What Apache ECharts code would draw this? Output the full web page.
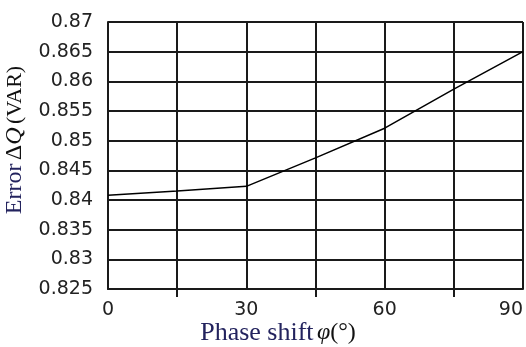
<!DOCTYPE html>
<html>
<head>
<meta charset="utf-8">
<script src="https://cdn.jsdelivr.net/npm/echarts@6/dist/echarts.min.js"></script>
<style>
  html, body { margin: 0; padding: 0; background: #fff; }
  #chart { width: 526px; height: 347px; }
</style>
</head>
<body>
<div id="chart"></div>
<script>
// Phase shift (degrees) and the resulting reactive-power error
const phaseShift = [0, 15, 30, 45, 60, 75, 90];
const errorDQ = [0.8408, 0.8415, 0.8423, 0.8471, 0.8521, 0.8587, 0.8650];

const yMin = 0.825, yMax = 0.87, yStep = 0.005;
const xMin = 0, xMax = 90, xStep = 30;

const chart = echarts.init(document.getElementById('chart'));

const gridColor = '#1a1a1a';
const labelFont = { fontFamily: 'DejaVu Sans', fontSize: 19, color: '#222' };

chart.setOption({
  animation: false,
  backgroundColor: '#fff',
  grid: { left: 108, right: 3, top: 22, bottom: 58, containLabel: false },
  xAxis: {
    type: 'value',
    min: xMin, max: xMax, interval: xStep,
    axisLine: { show: true, lineStyle: { color: gridColor, width: 2 } },
    axisTick: { show: false },
    minorTick: { show: true, splitNumber: 2, length: 8, lineStyle: { color: gridColor, width: 2 } },
    splitLine: { show: true, lineStyle: { color: gridColor, width: 2 } },
    minorSplitLine: { show: true, lineStyle: { color: gridColor, width: 2 } },
    axisLabel: Object.assign({ margin: 12, alignMaxLabel: 'right' }, labelFont)
  },
  yAxis: {
    type: 'value',
    min: yMin, max: yMax, interval: yStep,
    axisLine: { show: true, lineStyle: { color: gridColor, width: 2 } },
    axisTick: { show: false },
    splitLine: { show: true, lineStyle: { color: gridColor, width: 2 } },
    axisLabel: Object.assign({ margin: 15, formatter: v => String(+v.toFixed(3)) }, labelFont)
  },
  series: [{
    type: 'line',
    data: phaseShift.map((x, i) => [x, errorDQ[i]]),
    showSymbol: false,
    lineStyle: { color: '#000', width: 1.5 },
    z: 5
  }],
  graphic: [
    {
      type: 'text',
      x: 278, y: 333,
      style: {
        text: '{a|Phase shift} {b|φ}{c|(°)}',
        textAlign: 'center',
        textVerticalAlign: 'middle',
        rich: {
          a: { fontFamily: 'Liberation Serif', fontSize: 26, fill: '#23235e' },
          b: { fontFamily: 'Liberation Serif', fontSize: 24, fontStyle: 'italic', fill: '#111' },
          c: { fontFamily: 'Liberation Serif', fontSize: 24, fill: '#111' }
        }
      }
    },
    {
      type: 'text',
      x: 15, y: 140,
      rotation: Math.PI / 2,
      style: {
        text: '{a|Error} {b|Δ}{q|Q} {c|(VAR)}',
        textAlign: 'center',
        textVerticalAlign: 'middle',
        rich: {
          a: { fontFamily: 'Liberation Serif', fontSize: 24, fill: '#23235e' },
          b: { fontFamily: 'Liberation Serif', fontSize: 24, fill: '#111' },
          q: { fontFamily: 'Liberation Serif', fontSize: 24, fontStyle: 'italic', fill: '#111' },
          c: { fontFamily: 'Liberation Serif', fontSize: 22, fill: '#111' }
        }
      }
    }
  ]
});
</script>
</body>
</html>
